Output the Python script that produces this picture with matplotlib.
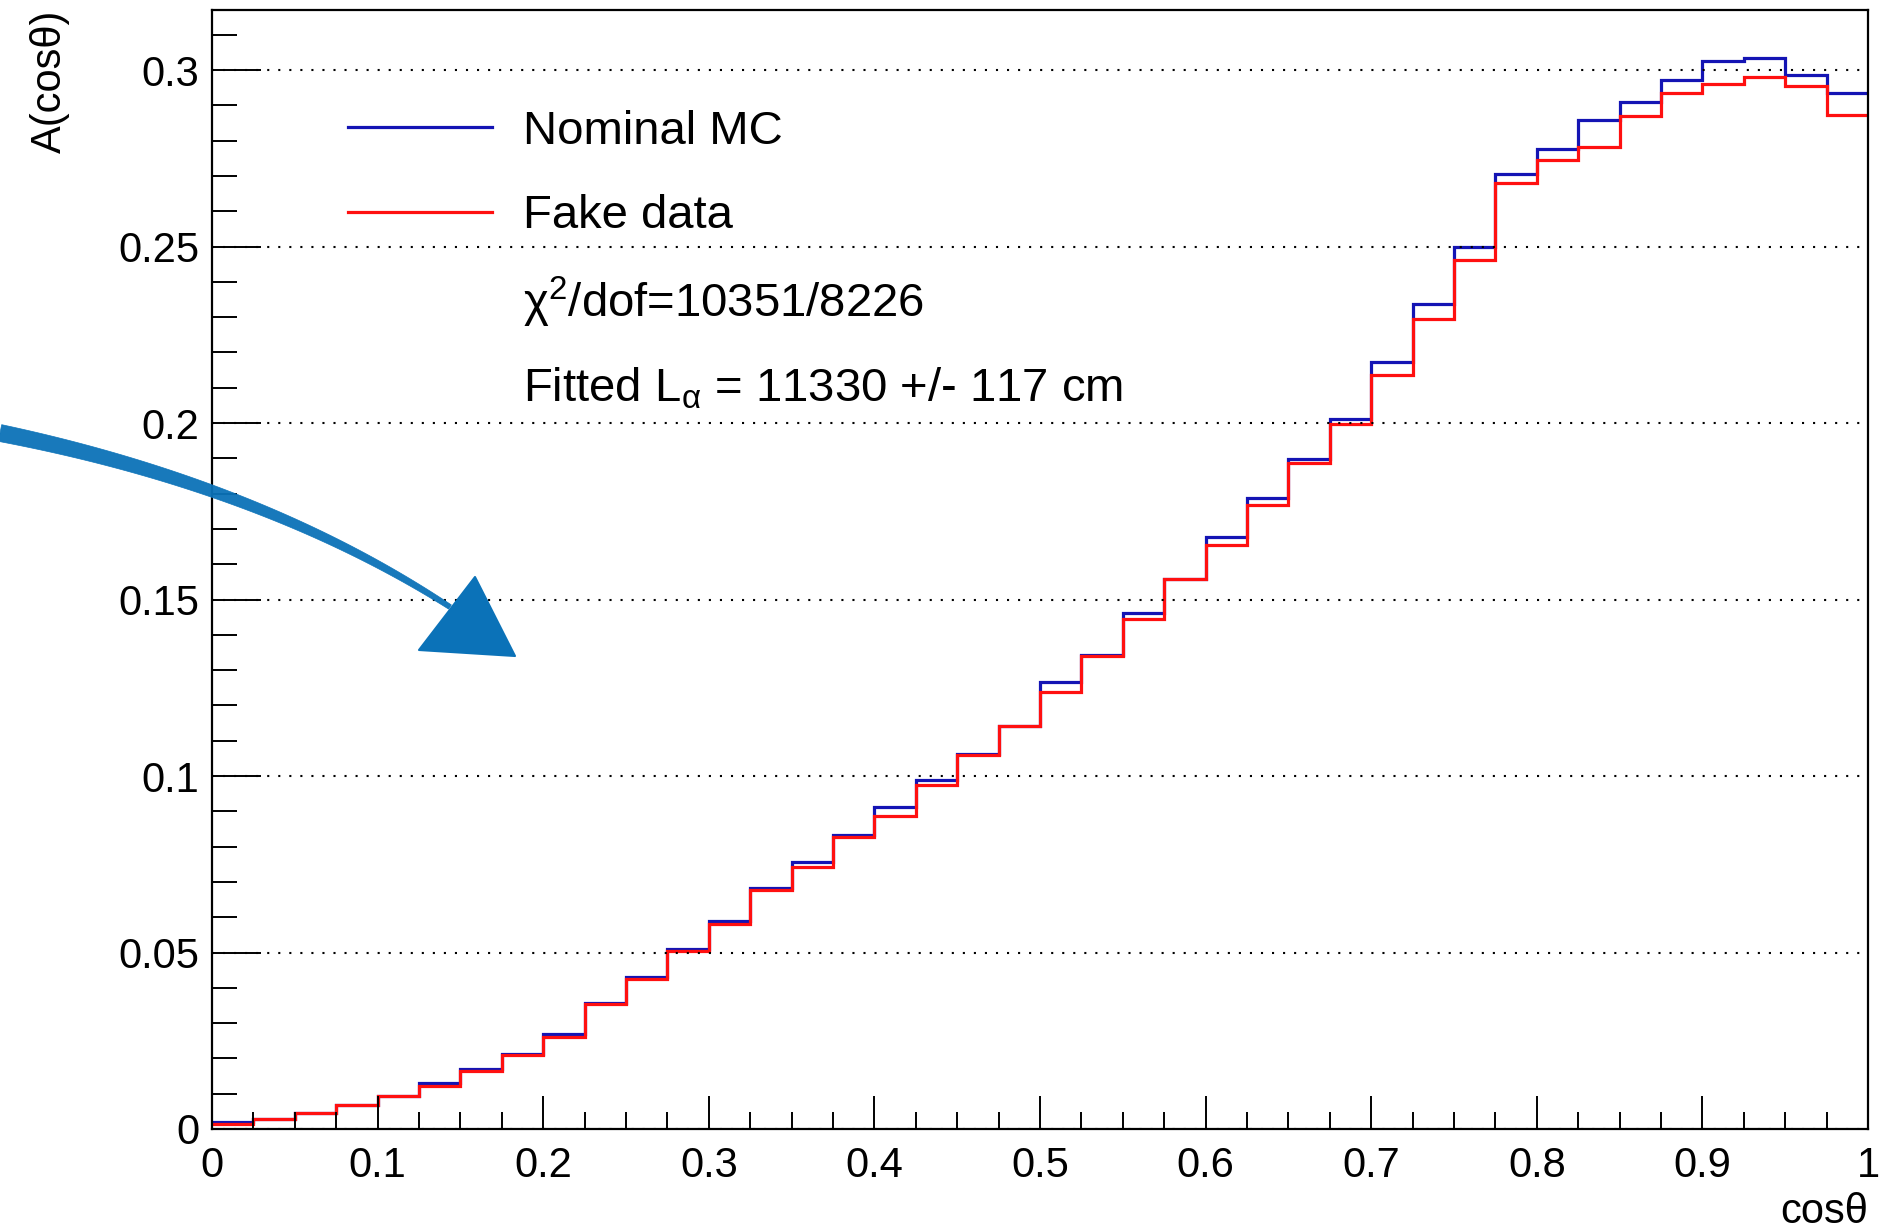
import numpy as np
import matplotlib
matplotlib.use("Agg")
import matplotlib.pyplot as plt
from matplotlib.lines import Line2D
from matplotlib.patches import Polygon
from matplotlib.ticker import MultipleLocator, FuncFormatter

plt.rcParams['font.family'] = ['Liberation Sans', 'DejaVu Sans']
plt.rcParams['mathtext.fontset'] = 'custom'
plt.rcParams['mathtext.rm'] = 'Liberation Sans'
plt.rcParams['mathtext.it'] = 'Liberation Sans'

# 40 bins in cos(theta)
edges = np.linspace(0.0, 1.0, 41)

nominal_mc = [0.0020, 0.0029, 0.0045, 0.0069, 0.0093, 0.0131, 0.0170, 0.0213, 0.0270, 0.0356,
              0.0432, 0.0509, 0.0589, 0.0683, 0.0757, 0.0832, 0.0913, 0.0988, 0.1063, 0.1143,
              0.1267, 0.1342, 0.1461, 0.1557, 0.1677, 0.1788, 0.1899, 0.2010, 0.2174, 0.2337,
              0.2499, 0.2704, 0.2775, 0.2858, 0.2908, 0.2971, 0.3026, 0.3034, 0.2987, 0.2934]
fake_data = [0.0014, 0.0027, 0.0044, 0.0068, 0.0093, 0.0121, 0.0163, 0.0210, 0.0260, 0.0354,
             0.0426, 0.0503, 0.0582, 0.0677, 0.0741, 0.0827, 0.0886, 0.0974, 0.1060, 0.1143,
             0.1237, 0.1339, 0.1444, 0.1557, 0.1655, 0.1769, 0.1886, 0.1996, 0.2136, 0.2294,
             0.2461, 0.2681, 0.2745, 0.2782, 0.2870, 0.2934, 0.2960, 0.2980, 0.2956, 0.2873]

chi2_text = 'χ$^2$/dof=10351/8226'
fit_text = r'Fitted L$_{\mathrm{α}}$ = 11330 +/- 117 cm'

W, H = 1896, 1231
fig = plt.figure(figsize=(W / 100, H / 100), dpi=100)
ax = fig.add_axes([212 / W, 1 - 1129 / H, 1656 / W, 1119 / H])

ax.stairs(nominal_mc, edges, baseline=None, color='#1414b4', lw=2.3, label='Nominal MC')
ax.stairs(fake_data, edges, baseline=None, color='#ff1010', lw=2.3, label='Fake data')

ax.set_xlim(0, 1)
ax.set_ylim(0, 0.317)

# axes / ticks
for s in ax.spines.values():
    s.set_linewidth(1.6)
ax.xaxis.set_major_locator(MultipleLocator(0.1))
ax.xaxis.set_minor_locator(MultipleLocator(0.025))
ax.yaxis.set_major_locator(MultipleLocator(0.05))
ax.yaxis.set_minor_locator(MultipleLocator(0.01))
fmt = FuncFormatter(lambda v, p: '%g' % round(v, 3))
ax.xaxis.set_major_formatter(fmt)
ax.yaxis.set_major_formatter(fmt)
ax.tick_params(which='both', direction='in', top=False, right=False, width=1.4, labelsize=30)
ax.tick_params(axis='x', which='major', length=24, pad=12)
ax.tick_params(axis='x', which='minor', length=12)
ax.tick_params(axis='y', which='major', length=35, pad=9)
ax.tick_params(axis='y', which='minor', length=18)

ax.yaxis.grid(True, color='black', lw=1.5, linestyle=(0, (1, 4.3)))

ax.set_xlabel('cosθ', fontsize=30, loc='right')
ax.xaxis.set_label_coords(1.0, -0.056)
ax.set_ylabel('A(cosθ)', fontsize=30, loc='top')
ax.yaxis.set_label_coords(-0.086, 1.0)

# legend for the two histograms, fit summary written underneath
ax.legend(loc='upper left', bbox_to_anchor=(0.0821, 0.911),
          frameon=False, fontsize=34, handlelength=3.05, handletextpad=0.66,
          borderpad=0, borderaxespad=0, labelspacing=0.86)
ax.text(0.1878, 0.7256, chi2_text, transform=ax.transAxes, fontsize=34, va='baseline')
ax.text(0.1878, 0.6497, fit_text, transform=ax.transAxes, fontsize=34, va='baseline')

# hand-drawn blue arrow pointing at the curve
arrow_c = '#0b72b8'
p0, c, p2 = np.array([0, 433.0]), np.array([263, 486.0]), np.array([450, 607.0])
t = np.linspace(0, 1, 60)[:, None]
centre = (1 - t) ** 2 * p0 + 2 * t * (1 - t) * c + t ** 2 * p2
deriv = 2 * (1 - t) * (c - p0) + 2 * t * (p2 - c)
normal = np.column_stack([-deriv[:, 1], deriv[:, 0]])
normal /= np.linalg.norm(normal, axis=1)[:, None]
half = (8.5 - 6.0 * t[:, 0])[:, None]
outline = np.vstack([centre + normal * half, (centre - normal * half)[::-1]])
to_fig = lambda pts: np.column_stack([pts[:, 0] / W, 1 - pts[:, 1] / H])
fig.patches.append(Polygon(to_fig(outline), closed=True, transform=fig.transFigure,
                           facecolor=arrow_c, edgecolor=arrow_c, lw=0.5, alpha=0.95))
head = np.array([[475, 577.0], [419, 650.0], [515, 656.0]])
fig.patches.append(Polygon(to_fig(head), closed=True, transform=fig.transFigure,
                           facecolor=arrow_c, edgecolor=arrow_c, lw=1.5, joinstyle='round'))

fig.savefig('out.png', dpi=100)
